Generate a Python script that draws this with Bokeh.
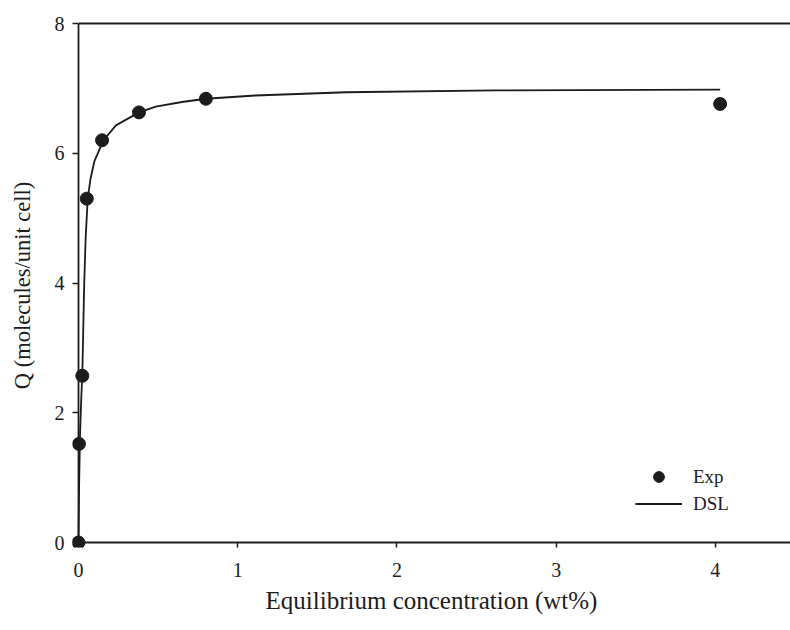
from bokeh.plotting import figure
from bokeh.models import Range1d, FixedTicker, Legend, LegendItem, LinearAxis
from bokeh.embed import file_html
from bokeh.resources import INLINE

# Experimental data (Exp)
exp_x = [0, 0.003, 0.024, 0.052, 0.148, 0.38, 0.80, 4.03]
exp_y = [0, 1.52, 2.57, 5.30, 6.20, 6.63, 6.84, 6.76]

# DSL model curve
dsl_x = [0, 0.004, 0.010, 0.017, 0.024, 0.030, 0.036, 0.045, 0.058, 0.075,
         0.10, 0.157, 0.235, 0.38, 0.485, 0.65, 0.80, 1.11, 1.68, 2.62, 4.03]
dsl_y = [0, 0.9, 1.7, 2.2, 2.6, 3.3, 4.0, 4.7, 5.30, 5.6,
         5.88, 6.20, 6.43, 6.63, 6.72, 6.79, 6.84, 6.89, 6.94, 6.97, 6.98]

x_ticks = [0, 1, 2, 3, 4]
y_ticks = [0, 2, 4, 6, 8]
X_MIN, X_MAX = -0.0377, 4.472
Y_MIN, Y_MAX = -0.077, 8.0

FONT = "Liberation Serif"
INK = "#1c1c1c"

p = figure(width=790, height=630, output_backend="svg", toolbar_location=None,
           x_range=Range1d(X_MIN, X_MAX), y_range=Range1d(Y_MIN, Y_MAX),
           min_border_left=72, min_border_right=0, min_border_top=23,
           min_border_bottom=83)
p.outline_line_color = None
p.grid.visible = False
p.background_fill_color = "white"
p.border_fill_color = "white"

bx = p.below[0]
ly = p.left[0]

# tick + label axes sit on the frame edges; their lines are hidden
for ax in (bx, ly):
    ax.axis_line_color = None
    ax.major_tick_line_color = INK
    ax.major_tick_line_width = 1.5
    ax.minor_tick_line_color = None
    ax.major_tick_out = 0
    ax.major_label_text_font = FONT
    ax.major_label_text_font_size = "20px"
    ax.major_label_text_color = INK
    ax.axis_label_text_font = FONT
    ax.axis_label_text_font_style = "normal"
    ax.axis_label_text_color = INK

bx.ticker = FixedTicker(ticks=x_ticks)
ly.ticker = FixedTicker(ticks=y_ticks)
bx.bounds = (X_MIN, 4.33)
bx.major_tick_in = 5
ly.major_tick_in = 6
bx.major_label_standoff = 15
ly.major_label_standoff = 8
bx.axis_label = "Equilibrium concentration (wt%)"
ly.axis_label = "Q (molecules/unit cell)"
bx.axis_label_text_font_size = "25px"
ly.axis_label_text_font_size = "22.5px"
bx.axis_label_standoff = 7
ly.axis_label_standoff = 17

# plain axis lines drawn at x = 0, y = 0 and along the top (y = 8)
def line_axis(bounds, **kw):
    return LinearAxis(bounds=bounds, ticker=FixedTicker(ticks=[]),
                      axis_line_color=INK, axis_line_width=1.8,
                      major_tick_line_color=None, minor_tick_line_color=None,
                      major_tick_out=0, major_tick_in=0, major_label_standoff=0,
                      **kw)

p.add_layout(line_axis((0, X_MAX), fixed_location=0), "below")
p.add_layout(line_axis((0, Y_MAX), fixed_location=0), "left")
p.add_layout(line_axis((0, X_MAX)), "above")

line_r = p.line(dsl_x, dsl_y, line_color=INK, line_width=1.8)
pts_r = p.scatter(exp_x, exp_y, size=13, fill_color=INK, line_color=INK)

legend = Legend(items=[LegendItem(label="Exp", renderers=[pts_r]),
                       LegendItem(label="DSL", renderers=[line_r])],
                location=(563, 30), padding=0, margin=0, spacing=0,
                glyph_width=47, glyph_height=27, label_height=27,
                label_standoff=11, label_text_font=FONT,
                label_text_font_size="19px", label_text_color=INK,
                border_line_color=None, background_fill_alpha=0)
p.add_layout(legend)

open("out.html", "w").write(file_html(p, INLINE))
